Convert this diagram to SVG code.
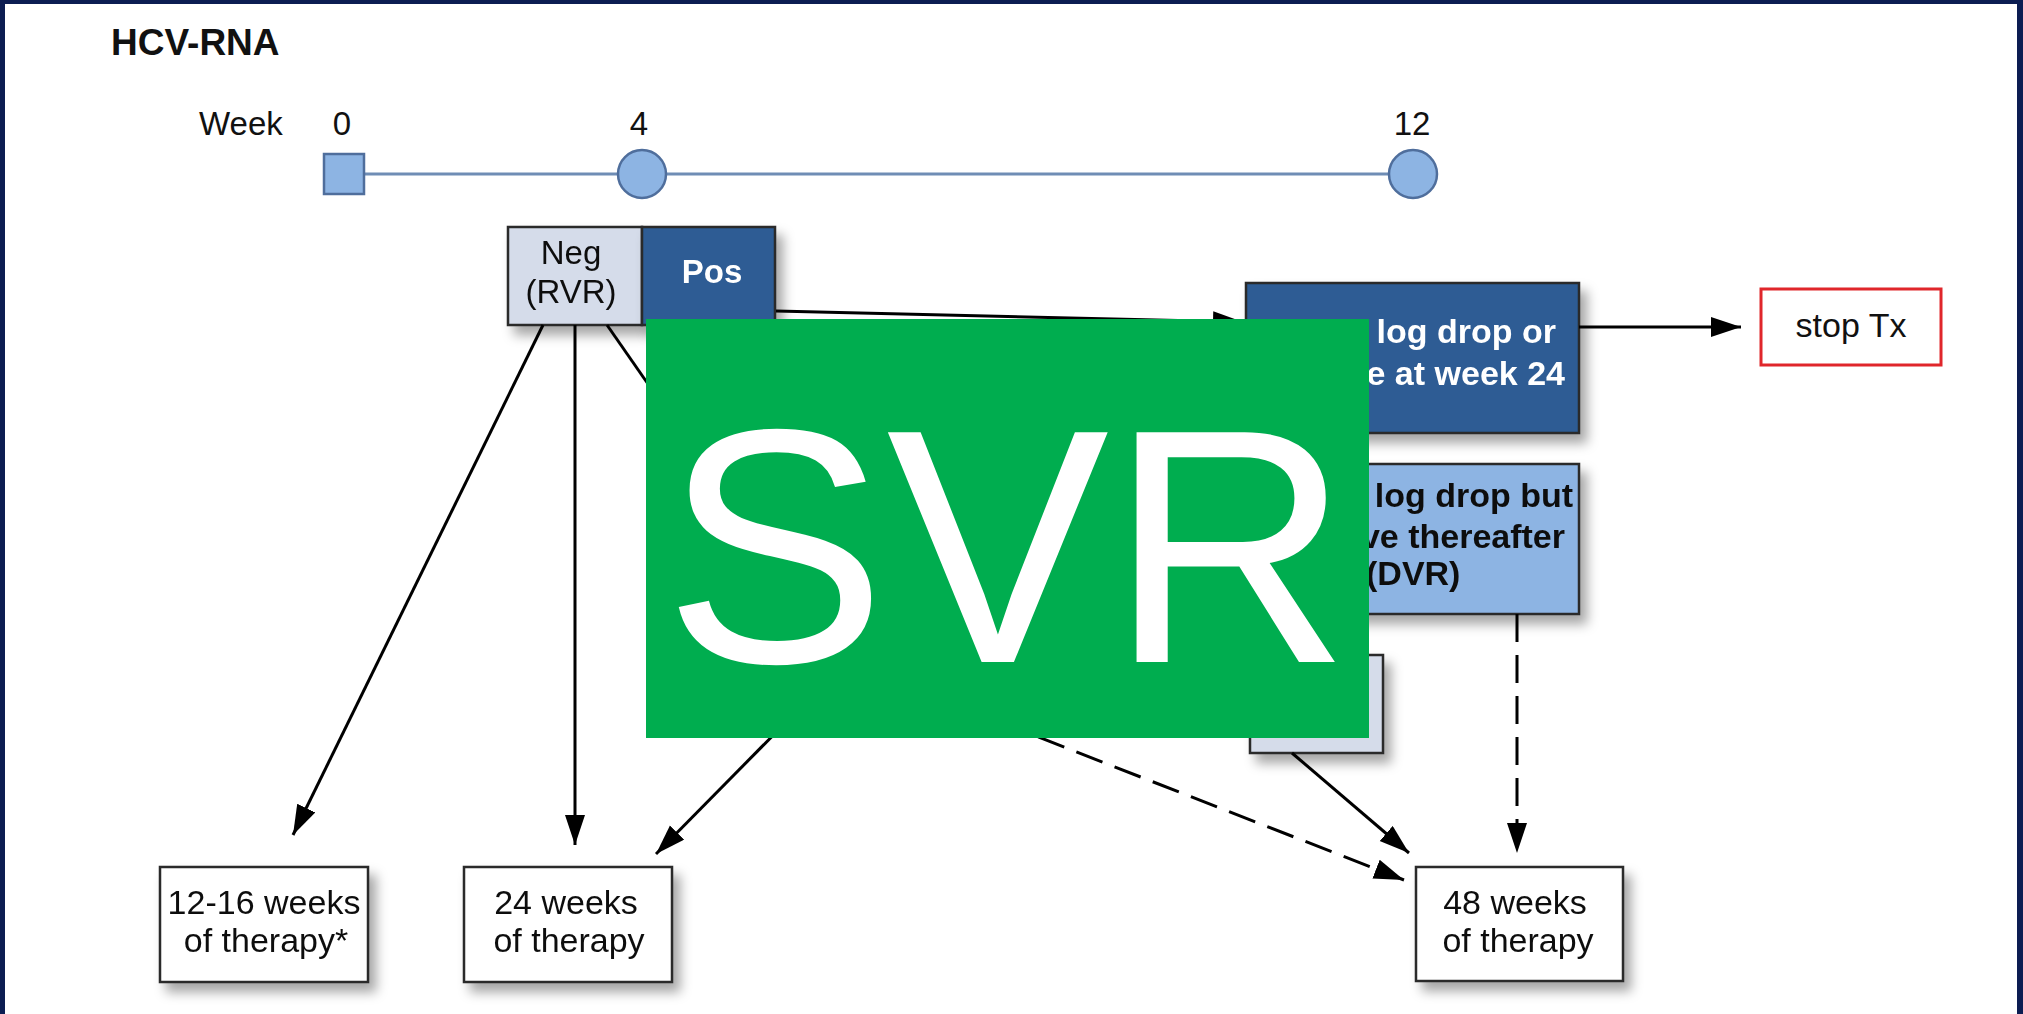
<svg xmlns="http://www.w3.org/2000/svg" width="2023" height="1014" viewBox="0 0 2023 1014">
<style>
  .t { font-family: "Liberation Sans", Arial, sans-serif; font-size: 34px; fill: #111; }
  .b { font-weight: bold; }
  .w { fill: #ffffff; }
  .box { stroke: #2a2a2a; stroke-width: 2.5; }
  .white { fill: #ffffff; }
  .neg { fill: #d5dcea; }
  .dark { fill: #2e5c94; }
  .light { fill: #8db4e3; }
  .conn { stroke: #000; stroke-width: 3; fill: none; marker-end: url(#ah); }
  .dash { stroke-dasharray: 28 13; }
  .mk { fill: #8db4e3; stroke: #4f6e9c; stroke-width: 2.5; }
</style>
<defs>
  <marker id="ah" markerUnits="userSpaceOnUse" markerWidth="32" markerHeight="22" refX="30" refY="10" orient="auto">
    <path d="M0,0 L30,10 L0,20 z" fill="#000"/>
  </marker>
  <filter id="sh" x="-20%" y="-20%" width="150%" height="160%">
    <feDropShadow dx="7" dy="9" stdDeviation="6" flood-color="#000" flood-opacity="0.35"/>
  </filter>
</defs>

<rect x="0" y="0" width="2023" height="1014" fill="#0c1d52"/>
<rect x="5" y="4" width="2012" height="1010" fill="#ffffff"/>

<g id="title">
  <text class="t b" x="111" y="55" style="font-size:37px">HCV-RNA</text>
</g>

<g id="timeline">
  <text class="t" x="199" y="135" style="font-size:33px">Week</text>
  <text class="t" x="342" y="135" text-anchor="middle" style="font-size:33px">0</text>
  <text class="t" x="639" y="135" text-anchor="middle" style="font-size:33px">4</text>
  <text class="t" x="1412" y="135" text-anchor="middle" style="font-size:33px">12</text>
  <line x1="364" y1="174" x2="1390" y2="174" stroke="#6f8db5" stroke-width="3"/>
  <rect class="mk" x="324" y="154" width="40" height="40"/>
  <circle class="mk" cx="642" cy="174" r="24"/>
  <circle class="mk" cx="1413" cy="174" r="24"/>
</g>

<g id="node-neg" filter="url(#sh)">
  <rect class="box neg" x="508" y="227" width="134" height="98"/>
  <text class="t" x="571" y="264" text-anchor="middle" style="font-size:33px">Neg</text>
  <text class="t" x="571" y="303" text-anchor="middle" style="font-size:33px">(RVR)</text>
</g>

<g id="node-pos" filter="url(#sh)">
  <rect class="box dark" x="642" y="227" width="133" height="98"/>
  <text class="t b w" x="712" y="283" text-anchor="middle" style="font-size:33px">Pos</text>
</g>

<g id="node-stop-criteria" filter="url(#sh)">
  <rect class="box dark" x="1246" y="283" width="333" height="150"/>
  <text class="t b w" x="1556" y="343" text-anchor="end">log drop or</text>
  <text class="t b w" x="1565" y="385" text-anchor="end">e at week 24</text>
</g>

<g id="node-dvr" filter="url(#sh)">
  <rect class="box light" x="1246" y="464" width="333" height="150"/>
  <text class="t b" x="1573" y="507" text-anchor="end">log drop but</text>
  <text class="t b" x="1565" y="548" text-anchor="end">ve thereafter</text>
  <text class="t b" x="1366" y="585">(DVR)</text>
</g>

<g id="node-week12-neg" filter="url(#sh)">
  <rect class="box neg" x="1250" y="655" width="133" height="98"/>
</g>

<g id="node-stop-tx">
  <rect x="1761" y="289" width="180" height="76" fill="#ffffff" stroke="#e0262b" stroke-width="3"/>
  <text class="t" x="1851" y="337" text-anchor="middle">stop Tx</text>
</g>

<g id="node-12-16" filter="url(#sh)">
  <rect class="box white" x="160" y="867" width="208" height="115"/>
  <text class="t" x="264" y="914" text-anchor="middle">12-16 weeks</text>
  <text class="t" x="266" y="952" text-anchor="middle">of therapy*</text>
</g>

<g id="node-24" filter="url(#sh)">
  <rect class="box white" x="464" y="867" width="208" height="115"/>
  <text class="t" x="566" y="914" text-anchor="middle">24 weeks</text>
  <text class="t" x="569" y="952" text-anchor="middle">of therapy</text>
</g>

<g id="node-48" filter="url(#sh)">
  <rect class="box white" x="1416" y="867" width="207" height="114"/>
  <text class="t" x="1515" y="914" text-anchor="middle">48 weeks</text>
  <text class="t" x="1518" y="952" text-anchor="middle">of therapy</text>
</g>

<g id="connectors">
  <line class="conn" x1="543" y1="325" x2="293" y2="835"/>
  <line class="conn" x1="575" y1="325" x2="575" y2="845"/>
  <line x1="607" y1="325" x2="680" y2="430" stroke="#000" stroke-width="3"/>
  <line class="conn" x1="776" y1="311" x2="1243" y2="322"/>
  <line class="conn" x1="1579" y1="327" x2="1741" y2="327"/>
  <line class="conn" x1="800" y1="708" x2="656" y2="854"/>
  <line class="conn dash" x1="1000" y1="722" x2="1404" y2="880"/>
  <line class="conn" x1="1292" y1="753" x2="1409" y2="853"/>
  <line class="conn dash" x1="1517" y1="614" x2="1517" y2="853"/>
</g>

<g id="svr-overlay">
  <rect x="646" y="319" width="723" height="419" fill="#00ad4f"/>
  <text x="1007" y="662" text-anchor="middle" fill="#ffffff" style="font-family:'Liberation Sans', Arial, sans-serif; font-size:334px">SVR</text>
</g>
</svg>
